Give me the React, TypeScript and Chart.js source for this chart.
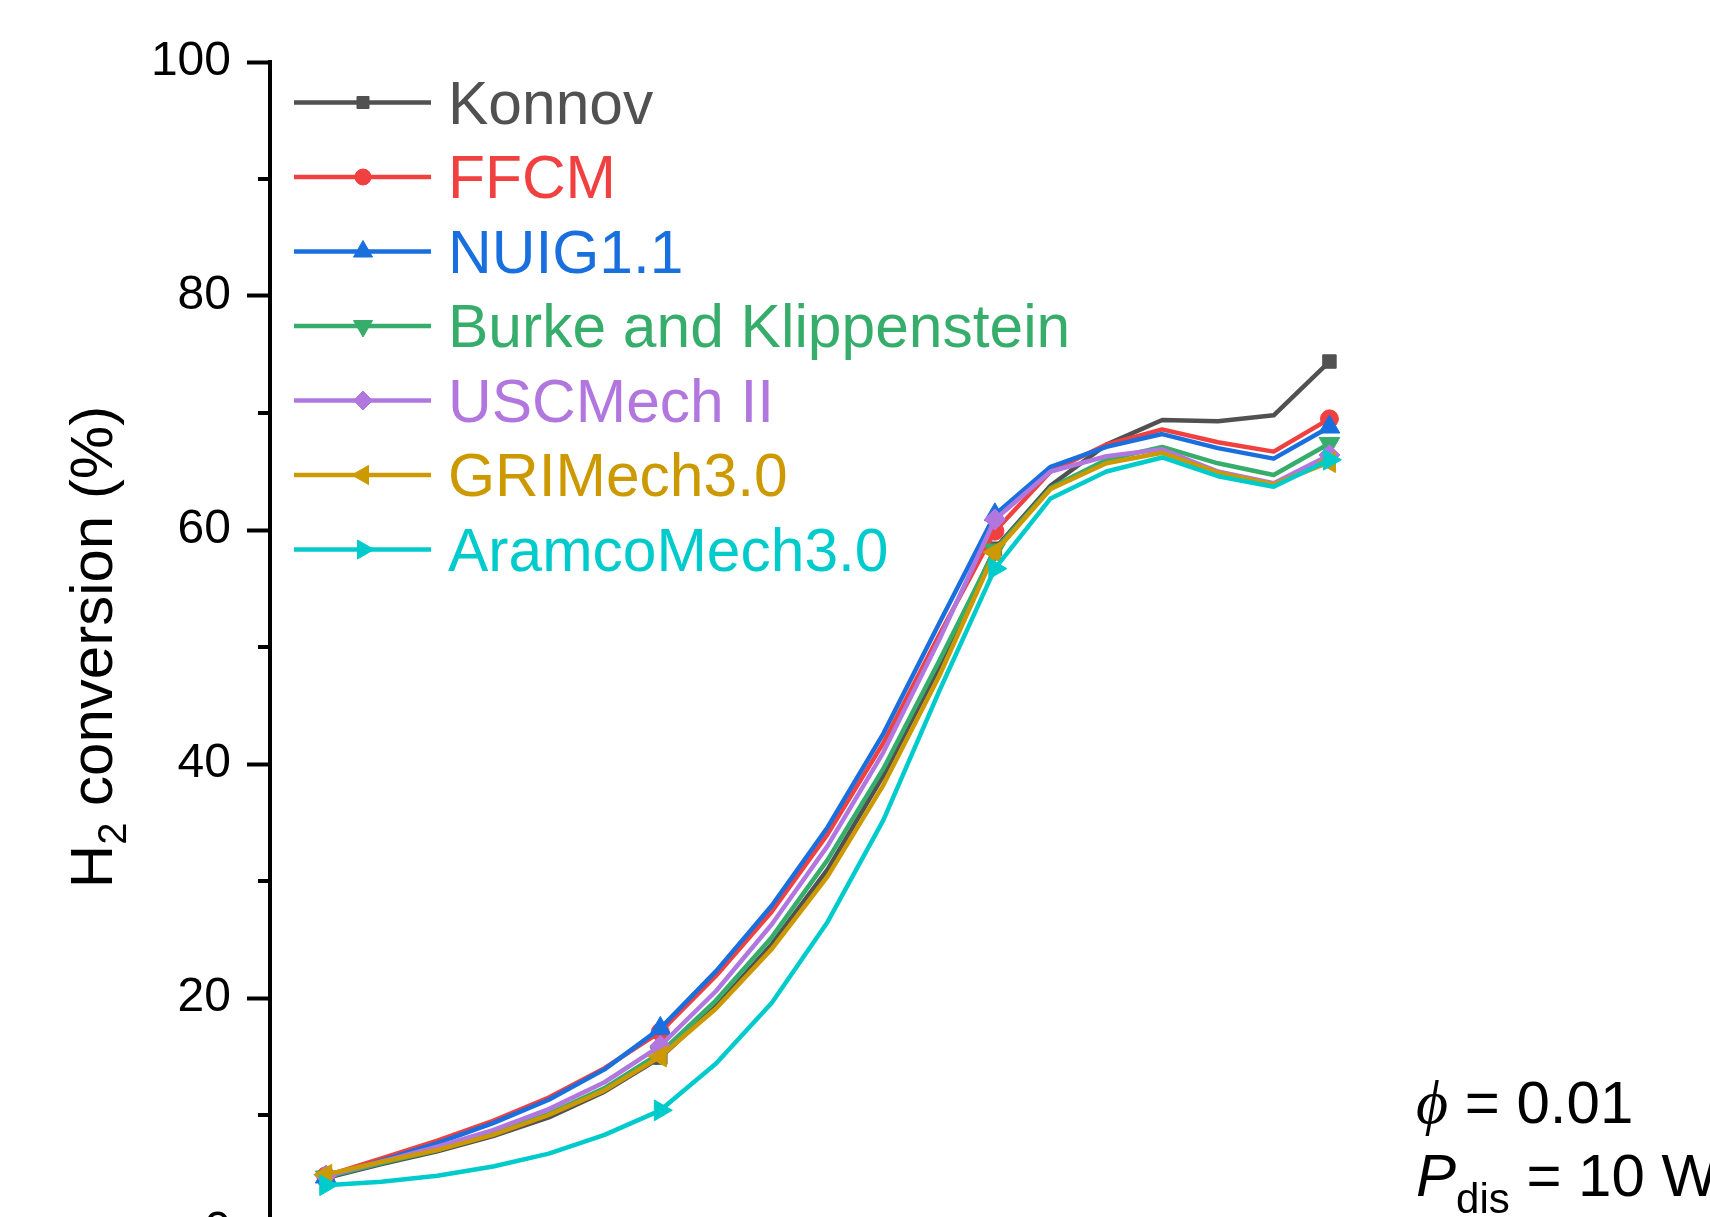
import React, { useEffect, useRef } from 'react';
import { Chart, registerables } from 'chart.js';
import { drawPoint } from 'chart.js/helpers';

Chart.register(...registerables);

// Simulation sample index along the profile
const xPoints = [0, 1, 2, 3, 4, 5, 6, 7, 8, 9, 10, 11, 12, 13, 14, 15, 16, 17, 18];

// H2 conversion (%) predicted by each mechanism
const konnov = [4.6, 5.8, 6.9, 8.2, 9.8, 12.0, 14.9, 19.3, 24.6, 31.0, 39.0, 48.3, 58.4, 63.8, 67.3, 69.4, 69.3, 69.8, 74.4];
const ffcm = [4.8, 6.3, 7.8, 9.5, 11.5, 14.0, 17.1, 21.9, 27.4, 34.0, 41.8, 51.0, 59.9, 65.0, 67.3, 68.6, 67.5, 66.7, 69.5];
const nuig = [4.7, 6.1, 7.6, 9.3, 11.3, 13.9, 17.4, 22.3, 27.9, 34.6, 42.6, 52.0, 61.3, 65.4, 67.1, 68.2, 67.0, 66.1, 68.8];
const burke = [4.7, 5.9, 7.0, 8.4, 10.1, 12.3, 15.3, 19.8, 25.2, 31.8, 39.6, 48.8, 58.3, 63.6, 66.0, 67.1, 65.7, 64.7, 67.4];
const uscMech = [4.8, 6.0, 7.3, 8.7, 10.5, 12.8, 15.9, 20.6, 26.3, 33.0, 41.0, 50.6, 60.9, 65.0, 66.3, 66.9, 65.0, 64.0, 66.4];
const griMech = [4.9, 6.0, 7.0, 8.3, 10.0, 12.1, 15.0, 19.1, 24.2, 30.4, 38.2, 47.5, 58.1, 63.5, 65.7, 66.6, 64.9, 63.9, 65.8];
const aramco = [4.0, 4.3, 4.8, 5.6, 6.7, 8.3, 10.4, 14.4, 19.6, 26.5, 35.2, 46.2, 56.7, 62.7, 65.0, 66.2, 64.6, 63.7, 66.0];

const seriesNames = ['Konnov', 'FFCM', 'NUIG1.1', 'Burke and Klippenstein', 'USCMech II', 'GRIMech3.0', 'AramcoMech3.0'];
const seriesValues = [konnov, ffcm, nuig, burke, uscMech, griMech, aramco];
const seriesColors = ['#515151', '#F14040', '#1A6FDF', '#37AD6B', '#B177DE', '#CC9900', '#00CBCC'];
const markerStyles = ['rect', 'circle', 'triangle', 'triangle', 'rectRot', 'triangle', 'triangle'];
const markerRotations = [0, 0, 0, 180, 0, 270, 90];
const markerRadii = [9.5, 9, 12, 12, 10.5, 12, 12];
const markerEvery = 6;

const yMajorTicks = [0, 20, 40, 60, 80, 100];
const yMinorTicks = [10, 30, 50, 70, 90];

const SANS = '"Liberation Sans", Arial, sans-serif';
const SERIF = '"Liberation Serif", "DejaVu Serif", serif';

const minorTickPlugin = {
  id: 'minorTicks',
  afterDraw(chart: any) {
    const { ctx, chartArea } = chart;
    const y = chart.scales.y;
    ctx.save();
    ctx.strokeStyle = '#000';
    ctx.lineWidth = 4;
    yMinorTicks.forEach((v) => {
      const py = Math.round(y.getPixelForValue(v));
      ctx.beginPath();
      ctx.moveTo(chartArea.left - 12, py);
      ctx.lineTo(chartArea.left, py);
      ctx.stroke();
    });
    ctx.restore();
  },
};

const yTitlePlugin = {
  id: 'yTitle',
  afterDraw(chart: any) {
    const { ctx, chartArea } = chart;
    const cy = (chartArea.top + chartArea.bottom) / 2;
    const mainFont = `60px ${SANS}`;
    const subFont = `40px ${SANS}`;
    ctx.save();
    ctx.translate(112, cy);
    ctx.rotate(-Math.PI / 2);
    ctx.fillStyle = '#000';
    ctx.textBaseline = 'alphabetic';
    ctx.textAlign = 'left';
    ctx.font = mainFont;
    const wH = ctx.measureText('H').width;
    const wRest = ctx.measureText(' conversion (%)').width;
    ctx.font = subFont;
    const w2 = ctx.measureText('2').width;
    const total = wH + w2 + wRest;
    let x = -total / 2;
    ctx.font = mainFont;
    ctx.fillText('H', x, 0);
    x += wH;
    ctx.font = subFont;
    ctx.fillText('2', x, 14);
    x += w2;
    ctx.font = mainFont;
    ctx.fillText(' conversion (%)', x, 0);
    ctx.restore();
  },
};

const legendPlugin = {
  id: 'mechLegend',
  afterDraw(chart: any) {
    const { ctx } = chart;
    ctx.save();
    seriesNames.forEach((name, i) => {
      const rowY = 102.5 + 74.5 * i;
      const color = seriesColors[i];
      ctx.strokeStyle = color;
      ctx.lineWidth = 4.5;
      ctx.beginPath();
      ctx.moveTo(294, rowY);
      ctx.lineTo(431, rowY);
      ctx.stroke();
      ctx.fillStyle = color;
      ctx.strokeStyle = color;
      ctx.lineWidth = 1;
      drawPoint(ctx, {
        pointStyle: markerStyles[i] as any,
        rotation: markerRotations[i],
        radius: markerRadii[i] - 1,
        borderWidth: 1,
      }, 363, rowY);
      ctx.font = `60.5px ${SANS}`;
      ctx.textAlign = 'left';
      ctx.textBaseline = 'alphabetic';
      ctx.fillStyle = color;
      ctx.fillText(name, 448, rowY + 21);
    });
    ctx.restore();
  },
};

const conditionsPlugin = {
  id: 'conditions',
  afterDraw(chart: any) {
    const { ctx } = chart;
    ctx.save();
    ctx.fillStyle = '#000';
    ctx.textAlign = 'left';
    ctx.textBaseline = 'alphabetic';

    // equivalence ratio
    let x = 1416;
    const y1 = 1123;
    ctx.font = `italic 62px ${SERIF}`;
    ctx.fillText('\u03D5', x, y1);
    x += ctx.measureText('\u03D5').width;
    ctx.font = `60px ${SANS}`;
    ctx.fillText(' = 0.01', x, y1);

    // discharge power
    x = 1416;
    const y2 = 1196;
    ctx.font = `italic 60px ${SANS}`;
    ctx.fillText('P', x, y2);
    x += ctx.measureText('P').width;
    ctx.font = `42px ${SANS}`;
    ctx.fillText('dis', x, y2 + 17);
    x += ctx.measureText('dis').width;
    ctx.font = `60px ${SANS}`;
    ctx.fillText(' = 10 W', x, y2);
    ctx.restore();
  },
};

export default function App() {
  const canvasRef = useRef<HTMLCanvasElement | null>(null);

  useEffect(() => {
    const canvas = canvasRef.current;
    if (!canvas) return;

    const datasets = seriesNames.map((name, i) => ({
      label: name,
      data: xPoints.map((x, k) => ({ x, y: seriesValues[i][k] })),
      borderColor: seriesColors[i],
      backgroundColor: seriesColors[i],
      pointBackgroundColor: seriesColors[i],
      pointBorderColor: seriesColors[i],
      pointBorderWidth: 1,
      pointStyle: markerStyles[i],
      pointRotation: markerRotations[i],
      pointRadius: (c: any) => (c.dataIndex % markerEvery === 0 ? markerRadii[i] : 0),
      borderWidth: 4.5,
      borderJoinStyle: 'round' as const,
      tension: 0,
      fill: false,
      order: seriesNames.length - i,
    }));

    const chart = new Chart(canvas, {
      type: 'line',
      data: { datasets },
      options: {
        animation: false,
        responsive: false,
        devicePixelRatio: 1,
        layout: { padding: { left: 0, top: 62, right: 46, bottom: 68 } },
        plugins: {
          legend: { display: false },
          tooltip: { enabled: false },
        },
        scales: {
          x: {
            type: 'linear',
            min: -1,
            max: 24,
            display: false,
          },
          y: {
            type: 'linear',
            min: 0,
            max: 100,
            afterFit: (scale: any) => {
              scale.width = 270;
            },
            afterBuildTicks: (scale: any) => {
              scale.ticks = yMajorTicks.map((v) => ({ value: v }));
            },
            ticks: {
              color: '#000',
              font: { family: SANS, size: 48 },
              padding: 16,
              callback: (v: any) => String(v),
            },
            grid: {
              drawOnChartArea: false,
              drawTicks: true,
              tickLength: 23,
              tickWidth: 4,
              tickColor: '#000',
            },
            border: { display: true, color: '#000', width: 4 },
          },
        },
      },
      plugins: [minorTickPlugin, yTitlePlugin, legendPlugin, conditionsPlugin],
    });

    return () => chart.destroy();
  }, []);

  return (
    <div
      style={{
        position: 'fixed',
        left: 0,
        top: 0,
        width: '1710px',
        height: '1217px',
        overflow: 'hidden',
        background: '#fff',
      }}
    >
      <canvas
        ref={canvasRef}
        width={1710}
        height={1300}
        style={{ display: 'block', width: '1710px', height: '1300px' }}
      />
    </div>
  );
}
